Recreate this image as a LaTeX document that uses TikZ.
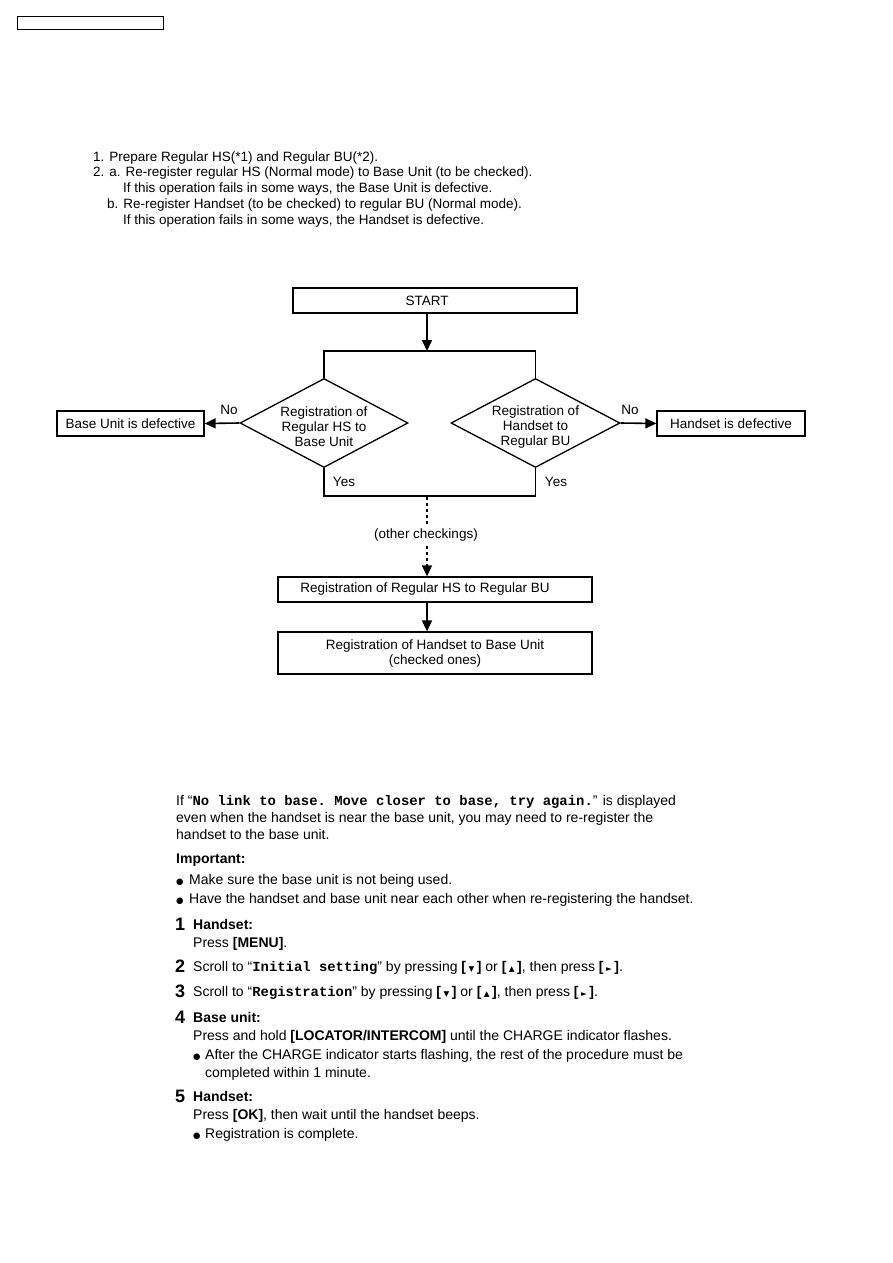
\documentclass[tikz,border=0pt]{standalone}
\usepackage{fontspec}
\setmainfont{Liberation Sans}
\setmonofont{Liberation Mono}
\newfontfamily\symfont{DejaVu Sans}
\usetikzlibrary{arrows.meta,shapes.geometric}
\newcommand\ft{\fontsize{13.5}{15}\selectfont}
\newcommand\fb{\fontsize{14}{16}\selectfont}
\newcommand\bignum{\fontsize{18}{18}\selectfont\bfseries}
\newcommand\keyb[1]{\textbf{[}#1\textbf{]}}
\newcommand\akey[1]{\textbf{[}\kern2.5pt{\symfont\fontsize{7.5}{7.5}\selectfont #1}\kern2.5pt\textbf{]}}
\newcommand\mono[1]{{\fontsize{13.9}{15}\selectfont\ttfamily\bfseries #1}}
\newcommand\bul{{\symfont\fontsize{8.5}{8.5}\selectfont ●}}
\begin{document}
\begin{tikzpicture}[x=1pt,y=-1pt,
  box/.style={draw,line width=1.3pt,inner sep=0pt},
  dia/.style={draw,diamond,line width=1.3pt,inner sep=0pt},
  lbl/.style={inner sep=0pt,font=\ft,align=center},
  ln/.style={line width=1.6pt},
  arr/.style={line width=1.6pt,-{Triangle[length=11pt,width=10pt]}},
  dot/.style={line width=1.6pt,dash pattern=on 3pt off 3pt},
  tl/.style={anchor=base west,inner sep=0pt,font=\ft},
  bl/.style={anchor=base west,inner sep=0pt,font=\fb},
  nl/.style={anchor=base west,inner sep=0pt,font=\bignum}]
\useasboundingbox (0,0) rectangle (893,1263);
% header box
\node[box,line width=1pt,minimum width=146pt,minimum height=13pt] (hdr) at (90,23.5) {};
% top text
\node[tl] (t1) at (93,161) {1. Prepare Regular HS(*1) and Regular BU(*2).};
\node[tl] (t2) at (93,176.5) {2. a. Re-register regular HS (Normal mode) to Base Unit (to be checked).};
\node[tl] (t3) at (123,192.5) {If this operation fails in some ways, the Base Unit is defective.};
\node[tl] (t4) at (107,208.5) {b. Re-register Handset (to be checked) to regular BU (Normal mode).};
\node[tl] (t5) at (123,224.5) {If this operation fails in some ways, the Handset is defective.};
% flowchart
\node[box,minimum width=284pt,minimum height=25pt] (start) at (435,300.5) {};
\node[lbl] (startlbl) at (427,300.5) {START};
\coordinate (split) at (427,351);
\node[dia,minimum width=168pt,minimum height=89pt] (d1) at (324,423) {};
\node[lbl] (d1t) at (324,427) {Registration of\\Regular HS to\\Base Unit};
\node[dia,minimum width=169pt,minimum height=89pt] (d2) at (535.5,423) {};
\node[lbl] (d2t) at (535.5,427) {Registration of\\Handset to\\Regular BU};
\node[box,minimum width=147pt,minimum height=25pt,font=\ft] (bud) at (130.5,423.5) {Base Unit is defective};
\node[box,minimum width=148pt,minimum height=25pt,font=\ft] (hsd) at (731,423.5) {Handset is defective};
\coordinate (sl) at (324,351);
\coordinate (sr) at (535.5,351);
\coordinate (yl) at (324,496);
\coordinate (yr) at (535.5,496);
\coordinate (join) at (427,497);
\node[lbl] (other) at (426,535.5) {(other checkings)};
\node[box,minimum width=314pt,minimum height=25pt] (r1) at (435,589.5) {};
\node[lbl] (r1t) at (425,589.5) {Registration of Regular HS to Regular BU};
\node[box,minimum width=314pt,minimum height=42pt,font=\ft,align=center] (r2) at (435,653) {Registration of Handset to Base Unit\\(checked ones)};
\draw[arr] (startlbl |- start.south) -- (split);
\draw[ln] (d1.north) -- (sl) -- (sr) -- (d2.north);
\draw[arr] (d1.west) -- (bud.east);
\draw[arr] (d2.east) -- (hsd.west);
\node[lbl] (no1) at (229,410) {No};
\node[lbl] (no2) at (630,410) {No};
\draw[ln] (d1.south) -- (yl) -- (yr) -- (d2.south);
\node[lbl] (yes1) at (344,481.5) {Yes};
\node[lbl] (yes2) at (556,481.5) {Yes};
\draw[dot] (join) -- ([yshift=3pt]other.north -| join);
\draw[dot,-{Triangle[length=11pt,width=10pt]}] ([yshift=-4pt]other.south -| join) -- (join |- r1.north);
\draw[arr] (r1.south -| join) -- (join |- r2.north);
% bottom text
\node[bl] (b1) at (176,805) {If “\mono{No link to base. Move closer to base, try again.}” is displayed};
\node[bl] (b2) at (176,822) {even when the handset is near the base unit, you may need to re-register the};
\node[bl] (b3) at (176,839) {handset to the base unit.};
\node[bl,font=\fb\bfseries] (imp) at (176,863) {Important:};
\node[bl] (i1b) at (176,884) {\bul};
\node[bl] (i1) at (189,884) {Make sure the base unit is not being used.};
\node[bl] (i2b) at (176,903) {\bul};
\node[bl] (i2) at (189,903) {Have the handset and base unit near each other when re-registering the handset.};
\node[nl] (n1) at (175,930) {1};
\node[bl,font=\fb\bfseries] (s1h) at (193,929) {Handset:};
\node[bl] (s1) at (193,947) {Press \keyb{\textbf{MENU}}.};
\node[nl] (n2) at (175,972) {2};
\node[bl] (s2) at (193,971) {Scroll to “\mono{Initial setting}” by pressing \akey{▼} or \akey{▲}, then press \akey{►}.};
\node[nl] (n3) at (175,997) {3};
\node[bl] (s3) at (193,996) {Scroll to “\mono{Registration}” by pressing \akey{▼} or \akey{▲}, then press \akey{►}.};
\node[nl] (n4) at (175,1023) {4};
\node[bl,font=\fb\bfseries] (s4h) at (193,1022) {Base unit:};
\node[bl] (s4) at (193,1040) {Press and hold \keyb{\textbf{LOCATOR/INTERCOM}} until the CHARGE indicator flashes.};
\node[bl] (s4bb) at (193,1059) {\bul};
\node[bl] (s4b) at (205,1059) {After the CHARGE indicator starts flashing, the rest of the procedure must be};
\node[bl] (s4c) at (205,1077) {completed within 1 minute.};
\node[nl] (n5) at (175,1102) {5};
\node[bl,font=\fb\bfseries] (s5h) at (193,1101) {Handset:};
\node[bl] (s5) at (193,1119) {Press \keyb{\textbf{OK}}, then wait until the handset beeps.};
\node[bl] (s5bb) at (193,1138) {\bul};
\node[bl] (s5b) at (205,1138) {Registration is complete.};
\end{tikzpicture}
\end{document}
